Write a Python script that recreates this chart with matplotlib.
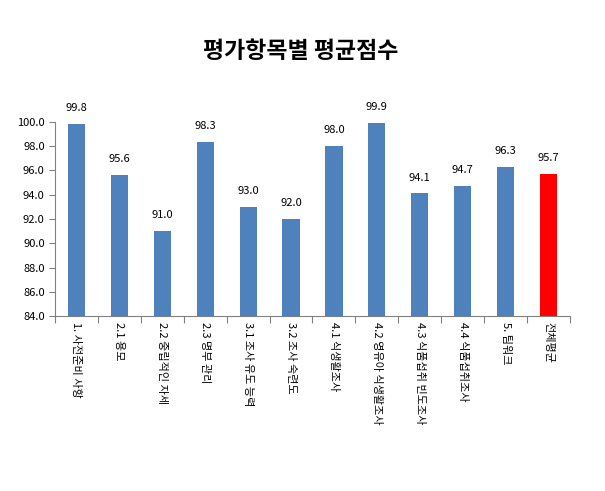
import numpy as np
import matplotlib.pyplot as plt

plt.rcParams['font.family'] = ['Noto Sans CJK KR', 'DejaVu Sans']

categories = ['1. 사전준비 사항', '2.1 용모', '2.2 중립적인 자세', '2.3 명부 관리',
              '3.1 조사 유도 능력', '3.2 조사 숙련도', '4.1 식생활조사',
              '4.2 영유아 식생활조사', '4.3 식품섭취 빈도조사', '4.4 식품섭취조사',
              '5. 팀워크', '전체평균']
scores = [99.8, 95.6, 91.0, 98.3, 93.0, 92.0, 98.0, 99.9, 94.1, 94.7, 96.3, 95.7]
colors = ['#4F81BD'] * (len(scores) - 1) + ['#FF0000']

fig = plt.figure(figsize=(6.05, 4.91), dpi=100)
ax = fig.add_axes([0.091, 0.356, 0.851, 0.396])
x = np.arange(len(categories))
ax.bar(x, np.array(scores) - 84, bottom=84, width=0.4, color=colors, zorder=2)

for xi, v in zip(x, scores):
    ax.text(xi, v + 0.9, f'{v:.1f}', ha='center', va='bottom', fontsize=8,
            clip_on=False)

ax.set_ylim(84, 100)
ax.set_xlim(-0.5, len(categories) - 0.5)
ax.set_yticks(np.arange(84, 100.1, 2))
ax.set_yticklabels([f'{t:.1f}' for t in np.arange(84, 100.1, 2)], fontsize=8)
ax.set_xticks(np.arange(-0.5, len(categories), 1))
ax.set_xticklabels([])
ax.set_xticks(x, minor=True)
ax.set_xticklabels(categories, minor=True, rotation=-90, fontsize=8, va='top', ha='center')
ax.tick_params(axis='x', which='minor', length=0, pad=4)
ax.tick_params(axis='x', which='major', length=5, color='#808080')
ax.tick_params(axis='y', length=4, color='#808080')
for s in ['top', 'right']:
    ax.spines[s].set_visible(False)
for s in ['left', 'bottom']:
    ax.spines[s].set_color('#808080')

fig.text(0.497, 0.895, '평가항목별 평균점수', ha='center', va='center', fontsize=16.5,
         fontweight='bold')

plt.savefig('out.png', dpi=100)
